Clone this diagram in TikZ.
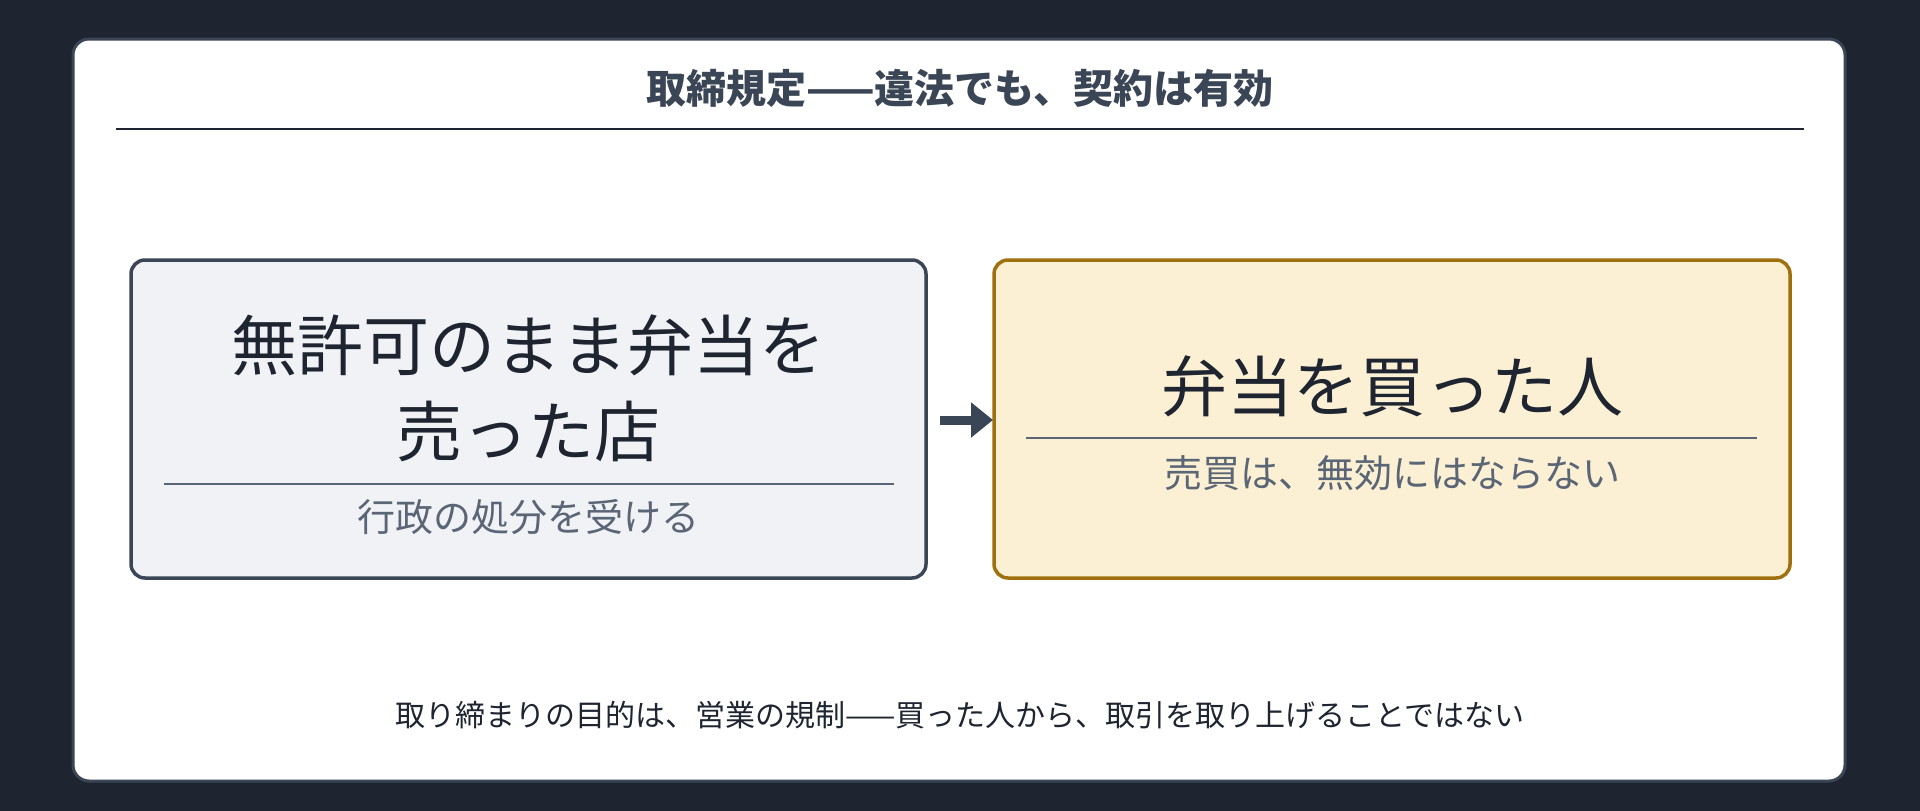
\documentclass[tikz,border=0pt]{standalone}
\usepackage{fontspec}
\setmainfont{Noto Sans CJK JP}
\usetikzlibrary{arrows.meta}
\definecolor{bgdark}{HTML}{1E2530}
\definecolor{slate}{HTML}{3A4555}
\definecolor{subgrey}{HTML}{5A6575}
\definecolor{lfill}{HTML}{F0F2F6}
\definecolor{rfill}{HTML}{FCF0D4}
\definecolor{rborder}{HTML}{A0700F}
\begin{document}
\begin{tikzpicture}[x=1pt,y=-1pt,
  box/.style={rounded corners=14pt,line width=3.5pt},
  main/.style={font=\fontsize{66}{86}\selectfont,text=bgdark,align=center},
  sub/.style={font=\fontsize{38}{46}\selectfont,text=subgrey},
  rule/.style={line width=1.5pt,draw=subgrey}]
\useasboundingbox (0,0) rectangle (1920,811);
\fill[bgdark] (0,0) rectangle (1920,811);
\draw[fill=white,draw=slate,line width=3pt,rounded corners=16pt] (73,39) rectangle (1845,781);
\node[font=\fontsize{40}{48}\selectfont\bfseries,text=slate] (title) at (960,88) {取締規定——違法でも、契約は有効};
\draw[line width=2pt,draw=bgdark] (116,129) -- (1804,129);
\draw[box,fill=lfill,draw=slate] (131,260) rectangle (926,578);
\node[main] (l) at (528,388) {無許可のまま弁当を\\売った店};
\draw[rule] (164,484) -- (894,484);
\node[sub] (ls) at (528,517) {行政の処分を受ける};
\draw[box,fill=rfill,draw=rborder] (994,260) rectangle (1790,578);
\node[main] (r) at (1392,386) {弁当を買った人};
\draw[rule] (1026,438) -- (1757,438);
\node[sub] (rs) at (1392,473) {売買は、無効にはならない};
\coordinate (a1) at (940,420); \coordinate (a2) at (993,420);
\draw[-{Triangle[length=22pt,width=34pt]},line width=9pt,draw=slate] (a1) -- (a2);
\node[font=\fontsize{30}{36}\selectfont,text=bgdark] (foot) at (960,715) {取り締まりの目的は、営業の規制——買った人から、取引を取り上げることではない};
\end{tikzpicture}
\end{document}
